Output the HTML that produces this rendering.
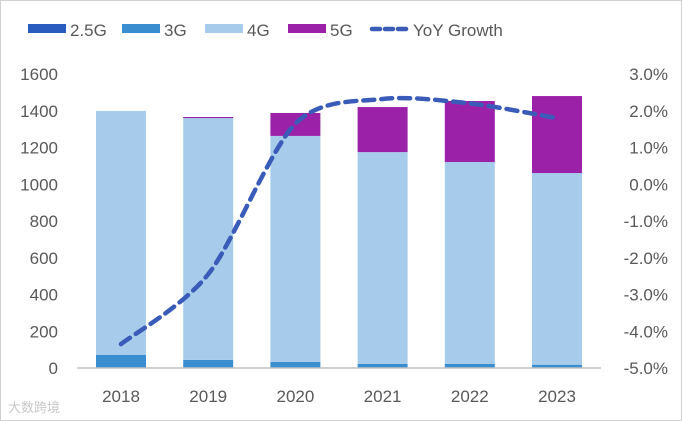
<!DOCTYPE html>
<html><head><meta charset="utf-8"><style>
html,body{margin:0;padding:0;background:#fff}
svg{display:block;font-family:"Liberation Sans","Noto Sans CJK SC",sans-serif}
</style></head><body>
<svg width="682" height="421" viewBox="0 0 682 421">
<rect x="0.5" y="0.5" width="681" height="420" fill="#fff" stroke="#d0d0d0"/>
<g id="legend"></g>
<g id="yl"></g>
<g id="yr"></g>
<g id="bars"></g>
<line x1="77" y1="368" x2="601" y2="368" stroke="#bfbfbf" stroke-width="1.5"/>
<g id="xl"></g>
<path id="line" fill="none" stroke="#3a5cb8" stroke-width="4.5" stroke-dasharray="11,7" stroke-linecap="round"/>
<text x="8" y="412" font-size="13" fill="#c8c8c8">大数跨境</text>
</svg>
<script>
const years=["2018","2019","2020","2021","2022","2023"];
const g25=[2,2,2,2,2,2];
const g3=[70,42,31,20,20,16];
const g4=[1327,1316,1230,1153,1099,1043];
const g5=[0,6,125,245,332,419];
const yoy=[-4.35,-2.45,1.65,2.32,2.2,1.8];
const leftTicks=[0,200,400,600,800,1000,1200,1400,1600];
const rightTicks=[-5,-4,-3,-2,-1,0,1,2,3];
const NS="http://www.w3.org/2000/svg";
const y0=368,pxPer=294/1600;
const yL=v=>y0-v*pxPer;
const yR=p=>y0-(p+5)*36.75;
const xC=i=>121+i*87.2;
const bw=50;
function mk(t,a,p){const e=document.createElementNS(NS,t);for(const k in a)e.setAttribute(k,a[k]);p.appendChild(e);return e;}
const lg=document.getElementById('legend');
const li=[["2.5G","#2a5cc0",28],["3G","#3a8ecf",122],["4G","#a7cbea",205],["5G","#9c21a9",288]];
li.forEach(l=>{const r=mk('rect',{x:l[2],y:24,width:38,height:9,fill:l[1]},lg);


const t=mk('text',{x:l[2]+42,y:36,'font-size':17,fill:'#595959'},lg);t.textContent=l[0];

});
const ll=mk('line',{x1:372,y1:29,x2:406,y2:29,stroke:'#3a5cb8','stroke-width':4.5,'stroke-dasharray':'8,5','stroke-linecap':'round'},lg);


const lt=mk('text',{x:413,y:36,'font-size':17,fill:'#595959'},lg);lt.textContent="YoY Growth";


const yl=document.getElementById('yl');
leftTicks.forEach(v=>{const t=mk('text',{x:58,y:yL(v)+6,'font-size':17,fill:'#595959','text-anchor':'end'},yl);t.textContent=v;

});
const yr=document.getElementById('yr');
rightTicks.forEach(v=>{const t=mk('text',{x:668,y:yR(v)+6,'font-size':17,fill:'#595959','text-anchor':'end'},yr);t.textContent=v.toFixed(1)+'%';

});
const bars=document.getElementById('bars');
const series=[[g25,'#2a5cc0','2.5g'],[g3,'#3a8ecf','3g'],[g4,'#a7cbea','4g'],[g5,'#9c21a9','5g']];
years.forEach((yr_,i)=>{let base=0;series.forEach(s=>{const v=s[0][i];const r=mk('rect',{x:xC(i)-bw/2,y:yL(base+v),width:bw,height:v*pxPer,fill:s[1]},bars);

base+=v;});
const t=mk('text',{x:xC(i),y:402,'font-size':17,fill:'#595959','text-anchor':'middle'},document.getElementById('xl'));t.textContent=yr_;

});
const pts=yoy.map((v,i)=>[xC(i),yR(v)]);
let d=`M${pts[0][0]},${pts[0][1]}`;
for(let i=0;i<pts.length-1;i++){const p0=pts[i-1]||pts[i],p1=pts[i],p2=pts[i+1],p3=pts[i+2]||p2;
const k=7;
const c1=[p1[0]+(p2[0]-p0[0])/k,p1[1]+(p2[1]-p0[1])/k],c2=[p2[0]-(p3[0]-p1[0])/k,p2[1]-(p3[1]-p1[1])/k];
d+=` C${c1[0]},${c1[1]} ${c2[0]},${c2[1]} ${p2[0]},${p2[1]}`;}
document.getElementById('line').setAttribute('d',d);
</script>
</body></html>
